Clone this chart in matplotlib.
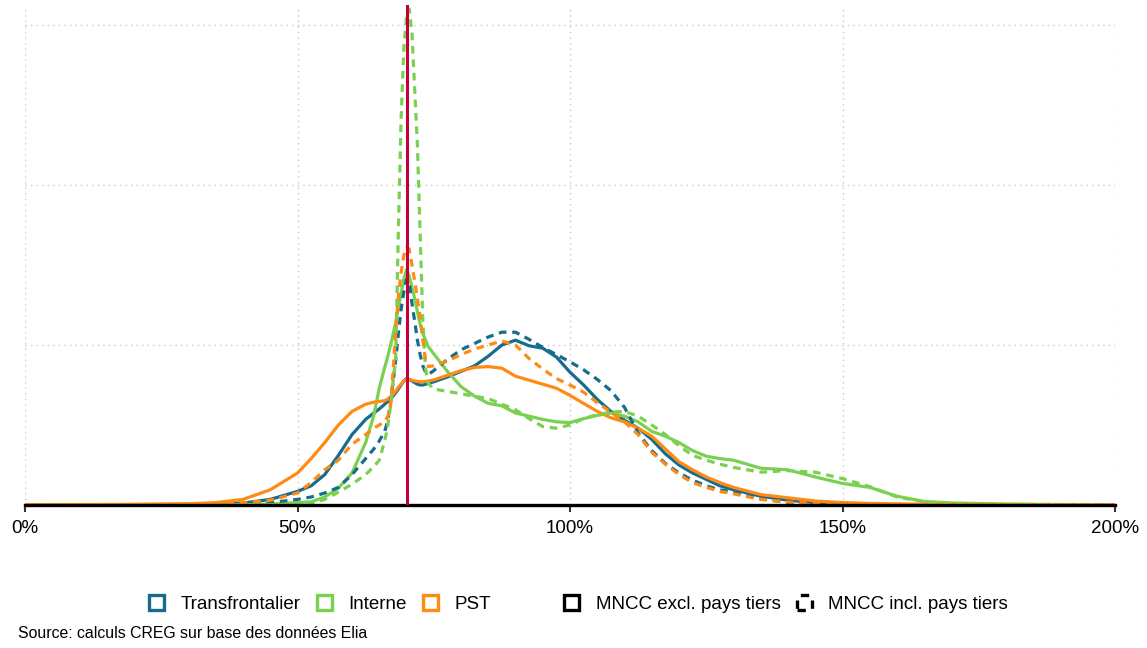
import matplotlib
matplotlib.use("Agg")
import matplotlib.pyplot as plt
from matplotlib.patches import Patch
from matplotlib.ticker import FuncFormatter

# x: ratio in %
x_pct = [0, 10, 20, 30, 35, 40, 45, 50, 52.5, 55, 57.5, 60, 62.5, 64, 65, 66, 66.5, 67, 67.5,
         68, 68.5, 69, 69.5, 70, 70.5, 71, 71.5, 72, 72.5, 73, 73.5, 74, 75, 77.5, 80, 82.5,
         85, 87.5, 90, 92.5, 95, 97.5, 100, 102.5, 105, 107.5, 110, 112.5, 115, 117.5, 120,
         122.5, 125, 127.5, 130, 135, 140, 145, 150, 155, 160, 165, 170, 180, 190, 200]

trans_excl = [0.002, 0.002, 0.003, 0.004, 0.006, 0.012, 0.035, 0.085, 0.12, 0.19, 0.31, 0.44, 0.535, 0.575, 0.60, 0.63, 0.645, 0.66, 0.68,
              0.70, 0.725, 0.75, 0.775, 0.79, 0.785, 0.775, 0.765, 0.755, 0.75, 0.75, 0.755, 0.76, 0.77, 0.80, 0.835, 0.87,
              0.93, 1.0, 1.03, 0.995, 0.98, 0.925, 0.83, 0.75, 0.66, 0.585, 0.53, 0.48, 0.41, 0.32, 0.25,
              0.2, 0.16, 0.12, 0.095, 0.055, 0.03, 0.015, 0.008, 0.005, 0.003, 0.002, 0.002, 0.001, 0.001, 0.001]

trans_incl = [0.001, 0.001, 0.001, 0.001, 0.002, 0.005, 0.015, 0.035, 0.05, 0.075, 0.11, 0.19, 0.29, 0.35, 0.40, 0.46, 0.52, 0.62, 0.76,
              0.9, 1.07, 1.22, 1.33, 1.41, 1.40, 1.26, 1.15, 1.03, 0.94, 0.87, 0.83, 0.815, 0.84, 0.91, 0.97, 1.01,
              1.05, 1.08, 1.08, 1.035, 0.985, 0.94, 0.895, 0.845, 0.785, 0.715, 0.61, 0.45, 0.34, 0.26, 0.2,
              0.155, 0.12, 0.095, 0.08, 0.04, 0.015, 0.007, 0.004, 0.002, 0.002, 0.001, 0.001, 0.001, 0.001, 0.001]

int_excl = [0.001, 0.001, 0.001, 0.001, 0.001, 0.002, 0.006, 0.015, 0.02, 0.05, 0.105, 0.2, 0.39, 0.56, 0.73, 0.86, 0.92, 0.99, 1.06,
            1.14, 1.23, 1.32, 1.41, 1.47, 1.43, 1.36, 1.29, 1.21, 1.13, 1.07, 1.03, 0.99, 0.945, 0.835, 0.74, 0.68,
            0.635, 0.62, 0.575, 0.555, 0.535, 0.52, 0.515, 0.54, 0.56, 0.575, 0.555, 0.52, 0.46, 0.43, 0.39,
            0.34, 0.305, 0.29, 0.28, 0.23, 0.22, 0.175, 0.135, 0.11, 0.055, 0.022, 0.013, 0.006, 0.003, 0.002]

int_incl = [0.001, 0.001, 0.001, 0.001, 0.001, 0.001, 0.002, 0.005, 0.01, 0.035, 0.08, 0.13, 0.19, 0.24, 0.28, 0.40, 0.48, 0.6, 0.76,
            0.9, 1.7, 2.4, 2.85, 3.05, 3.1, 2.95, 2.6, 2.25, 1.7, 1.15, 0.85, 0.76, 0.725, 0.71, 0.695, 0.68,
            0.665, 0.63, 0.595, 0.54, 0.49, 0.48, 0.50, 0.54, 0.565, 0.58, 0.585, 0.555, 0.5, 0.44, 0.37,
            0.31, 0.28, 0.255, 0.235, 0.205, 0.215, 0.205, 0.165, 0.115, 0.05, 0.02, 0.01, 0.004, 0.002, 0.001]

pst_excl = [0.002, 0.003, 0.004, 0.008, 0.015, 0.035, 0.095, 0.2, 0.29, 0.39, 0.5, 0.585, 0.63, 0.643, 0.647, 0.652, 0.66, 0.675, 0.69,
            0.71, 0.735, 0.755, 0.775, 0.785, 0.785, 0.78, 0.775, 0.772, 0.77, 0.77, 0.772, 0.775, 0.782, 0.81, 0.84, 0.86,
            0.865, 0.855, 0.805, 0.78, 0.755, 0.73, 0.685, 0.635, 0.585, 0.545, 0.52, 0.48, 0.43, 0.35, 0.27,
            0.22, 0.175, 0.14, 0.11, 0.065, 0.045, 0.025, 0.015, 0.01, 0.007, 0.005, 0.004, 0.003, 0.002, 0.002]

pst_incl = [0.002, 0.002, 0.002, 0.002, 0.005, 0.012, 0.03, 0.075, 0.14, 0.22, 0.28, 0.38, 0.44, 0.48, 0.5, 0.52, 0.55, 0.59, 0.82,
            1.08, 1.3, 1.45, 1.56, 1.61, 1.6, 1.5, 1.4, 1.29, 1.18, 1.03, 0.9, 0.865, 0.87, 0.9, 0.94, 0.975,
            1.0, 1.025, 1.0, 0.915, 0.85, 0.79, 0.75, 0.705, 0.64, 0.58, 0.52, 0.44, 0.33, 0.255, 0.19,
            0.14, 0.11, 0.085, 0.07, 0.035, 0.018, 0.01, 0.006, 0.003, 0.003, 0.002, 0.002, 0.002, 0.002, 0.002]

threshold_pct = 70
xticks_pct = [0, 50, 100, 150, 200]
series_names = ["Transfrontalier", "Interne", "PST"]
style_names = ["MNCC excl. pays tiers", "MNCC incl. pays tiers"]
source_text = "Source: calculs CREG sur base des données Elia"

BLUE = "#176C8E"
GREEN = "#7AD151"
ORANGE = "#FF8A14"
RED = "#C4003A"

plt.rcParams["font.family"] = ["Liberation Sans", "DejaVu Sans"]

fig = plt.figure(figsize=(11.47, 6.48), dpi=100)
ax = fig.add_axes([25 / 1147, 1 - 505 / 648, 1090 / 1147, 500 / 648])

lw = 2.3
dash = (0, (2.4, 1.8))
ax.plot(x_pct, trans_excl, color=BLUE, lw=lw, zorder=3, solid_joinstyle="round")
ax.plot(x_pct, int_excl, color=GREEN, lw=lw, zorder=3, solid_joinstyle="round")
ax.plot(x_pct, pst_excl, color=ORANGE, lw=lw, zorder=3, solid_joinstyle="round")
ax.plot(x_pct, trans_incl, color=BLUE, lw=lw, ls=dash, zorder=3)
ax.plot(x_pct, int_incl, color=GREEN, lw=lw, ls=dash, zorder=3)
ax.plot(x_pct, pst_incl, color=ORANGE, lw=lw, ls=dash, zorder=3)

ax.axvline(threshold_pct, color=RED, lw=2.2, zorder=5)

ax.set_xlim(0, 200)
ax.set_ylim(0, 3.125)
ax.set_xticks(xticks_pct)
ax.xaxis.set_major_formatter(FuncFormatter(lambda v, p: f"{v:.0f}%"))
ax.set_yticks([1, 2, 3])
ax.tick_params(axis="y", left=False, labelleft=False)
ax.tick_params(axis="x", direction="out", length=5, width=1.5, color="#333333",
               labelsize=13.5, pad=6)
ax.grid(True, color="#C8C8C8", ls=(0, (1, 3)), lw=1.0, zorder=0)
for s in ["left", "right", "top"]:
    ax.spines[s].set_visible(False)
ax.spines["bottom"].set_linewidth(2.4)
ax.spines["bottom"].set_color("black")
ax.spines["bottom"].set_zorder(4)

h1 = [Patch(facecolor="none", edgecolor=c, lw=2.4) for c in (BLUE, GREEN, ORANGE)]
h2 = [Patch(facecolor="none", edgecolor="black", lw=2.4),
      Patch(facecolor="none", edgecolor="black", lw=2.4, ls=(0, (2.5, 2.5)))]
kw = dict(frameon=False, fontsize=13.5, handlelength=0.8, handleheight=0.8,
          handletextpad=0.9, columnspacing=0.85, borderaxespad=0, borderpad=0)
fig.legend(h1, series_names, ncol=3, loc="center",
           bbox_to_anchor=(320 / 1147, 1 - 604 / 648), **kw)
fig.legend(h2, style_names, ncol=2, loc="center",
           bbox_to_anchor=(786 / 1147, 1 - 604 / 648), **kw)

fig.text(18 / 1147, 1 - 634 / 648, source_text, fontsize=11.4, ha="left", va="center")

fig.savefig("out.png", dpi=100)
